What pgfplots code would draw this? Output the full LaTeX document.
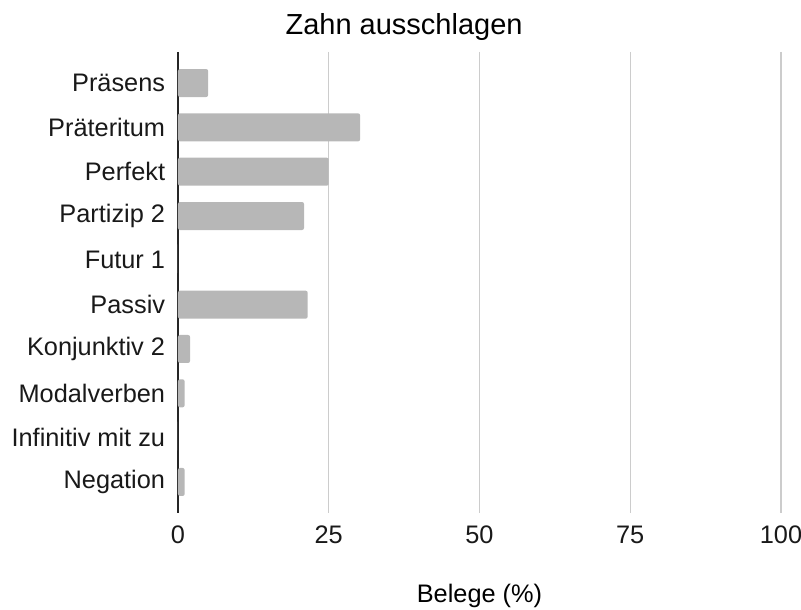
\documentclass[border=0pt]{standalone}
\usepackage{fontspec}
\setmainfont{Liberation Sans}
\usepackage{pgfplots}
\pgfplotsset{compat=1.18}
\definecolor{barc}{HTML}{B7B7B7}
\definecolor{gridc}{HTML}{CCCCCC}
\begin{document}
\begin{tikzpicture}
\path[use as bounding box] (-133.5pt,-72.75pt) rectangle (467.25pt,384.75pt);
\begin{axis}[
  scale only axis,
  width=452.25pt, height=345.75pt,
  xmin=0, xmax=100,
  ymin=-0.7, ymax=9.7,
  y dir=reverse,
  xbar, bar width=21pt,
  axis line style={draw=none},
  xtick={25,50,75,100},
  extra x ticks={0},
  extra x tick style={grid style={draw=black!85, line width=1.2pt}},
  xmajorgrids,
  grid style={draw=gridc, line width=0.9pt},
  major tick length=0pt,
  ytick={0,...,9},
  yticklabels={Präsens,Präteritum,Perfekt,Partizip 2,Futur 1,Passiv,Konjunktiv 2,Modalverben,Infinitiv mit zu,Negation},
  /pgf/number format/assume math mode=true,
  tick label style={font=\fontsize{19}{22}\selectfont, text=black!90},
  yticklabel style={anchor=east, inner sep=0pt, xshift=-9.5pt},
  xticklabel style={anchor=center, inner sep=0pt, yshift=-16.5pt},
  title={Zahn ausschlagen},
  every axis title/.style={at={(axis description cs:0.375,1)}, anchor=center, yshift=19pt, font=\fontsize{21.75}{26}\selectfont},
  xlabel={Belege (\%)},
  every axis x label/.style={at={(axis description cs:0.5,0)}, anchor=center, yshift=-62.25pt, font=\fontsize{19}{22}\selectfont},
]
\addplot[fill=barc, draw=none, rounded corners=1.5pt] coordinates {
  (5,0) (30.2,1) (25,2) (20.9,3) (0,4) (21.5,5) (2,6) (1.1,7) (0,8) (1.1,9)
};
\end{axis}
\end{tikzpicture}
\end{document}
